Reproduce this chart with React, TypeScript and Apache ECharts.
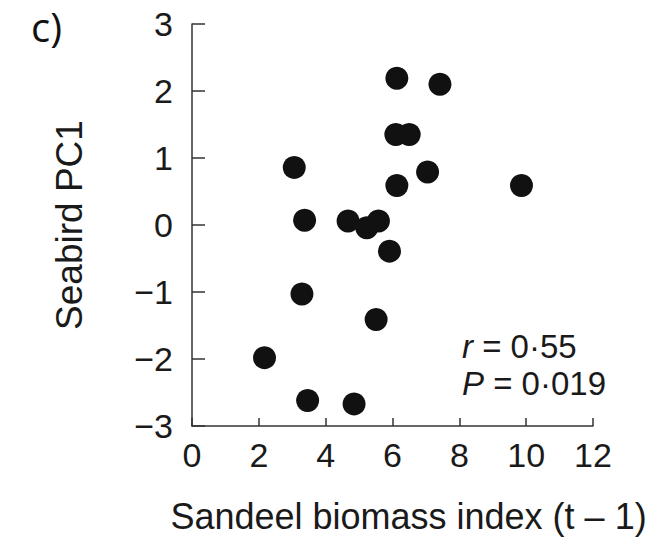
import React, { useEffect, useRef } from "react";
import * as echarts from "echarts";

const xValues = [6.13, 7.42, 6.1, 6.5, 3.06, 7.05, 6.13, 9.86, 3.37, 4.67, 5.23, 5.58, 5.91, 3.29, 5.51, 2.17, 3.46, 4.85];
const yValues = [2.19, 2.1, 1.35, 1.35, 0.86, 0.79, 0.59, 0.59, 0.07, 0.06, -0.04, 0.06, -0.39, -1.03, -1.41, -1.98, -2.62, -2.67];
const xAxisTitle = "Sandeel biomass index (t \u2013 1)";
const yAxisTitle = "Seabird PC1";
const panelLabel = "c)";
const statR = "0\u00b755";
const statP = "0\u00b7019";

const FONT = "'Liberation Sans', Arial, Helvetica, sans-serif";
const TEXT = "#1a1a1a";

export default function App() {
  const ref = useRef<HTMLDivElement>(null);
  useEffect(() => {
    if (!ref.current) return;
    const chart = echarts.init(ref.current, undefined, { renderer: "svg" });
    const data = xValues.map((x, i) => [x, yValues[i]]);
    chart.setOption({
      animation: false,
      backgroundColor: "#fff",
      grid: { left: 192, right: 66, top: 24, bottom: 113, containLabel: false, outerBoundsMode: "none" },
      xAxis: {
        type: "value",
        min: 0,
        max: 12,
        interval: 2,
        name: xAxisTitle,
        nameLocation: "middle",
        nameGap: 72,
        nameTextStyle: { fontFamily: FONT, fontSize: 36, color: TEXT, padding: [0, 0, 0, 32] },
        axisLine: { show: true, onZero: false, lineStyle: { color: "#333", width: 1.5 } },
        axisTick: { show: true, inside: true, length: 8, lineStyle: { color: "#333", width: 1.5 } },
        axisLabel: { fontFamily: FONT, fontSize: 34, color: TEXT, margin: 12 },
        splitLine: { show: false },
      },
      yAxis: {
        type: "value",
        min: -3,
        max: 3,
        interval: 1,
        name: yAxisTitle,
        nameLocation: "middle",
        nameGap: 104,
        nameTextStyle: { fontFamily: FONT, fontSize: 37, color: TEXT },
        axisLine: { show: true, onZero: false, lineStyle: { color: "#333", width: 1.5 } },
        axisTick: { show: true, inside: true, length: 13, lineStyle: { color: "#333", width: 1.5 } },
        axisLabel: {
          fontFamily: FONT,
          fontSize: 34,
          color: TEXT,
          margin: 19,
          formatter: (v: number) => String(v).replace("-", "\u2212"),
        },
        splitLine: { show: false },
      },
      series: [
        {
          type: "scatter",
          data,
          symbol: "circle",
          symbolSize: 23,
          itemStyle: { color: "#111", opacity: 1 },
        },
      ],
      graphic: [
        {
          type: "text",
          left: 31,
          top: 6,
          style: { text: panelLabel, fontFamily: "'Open Sans', sans-serif", fontSize: 40, fill: "#111" },
        },
        {
          type: "text",
          left: 462,
          top: 330,
          style: {
            text: "{i|r} = " + statR,
            fontFamily: FONT,
            fontSize: 33,
            fill: TEXT,
            rich: { i: { fontStyle: "italic", fontFamily: FONT, fontSize: 33, fill: TEXT } },
          },
        },
        {
          type: "text",
          left: 462,
          top: 367,
          style: {
            text: "{i|P} = " + statP,
            fontFamily: FONT,
            fontSize: 33,
            fill: TEXT,
            rich: { i: { fontStyle: "italic", fontFamily: FONT, fontSize: 33, fill: TEXT } },
          },
        },
      ],
    });
    return () => chart.dispose();
  }, []);
  return <div ref={ref} style={{ position: "fixed", left: 0, top: 0, width: 659, height: 539 }} />;
}
